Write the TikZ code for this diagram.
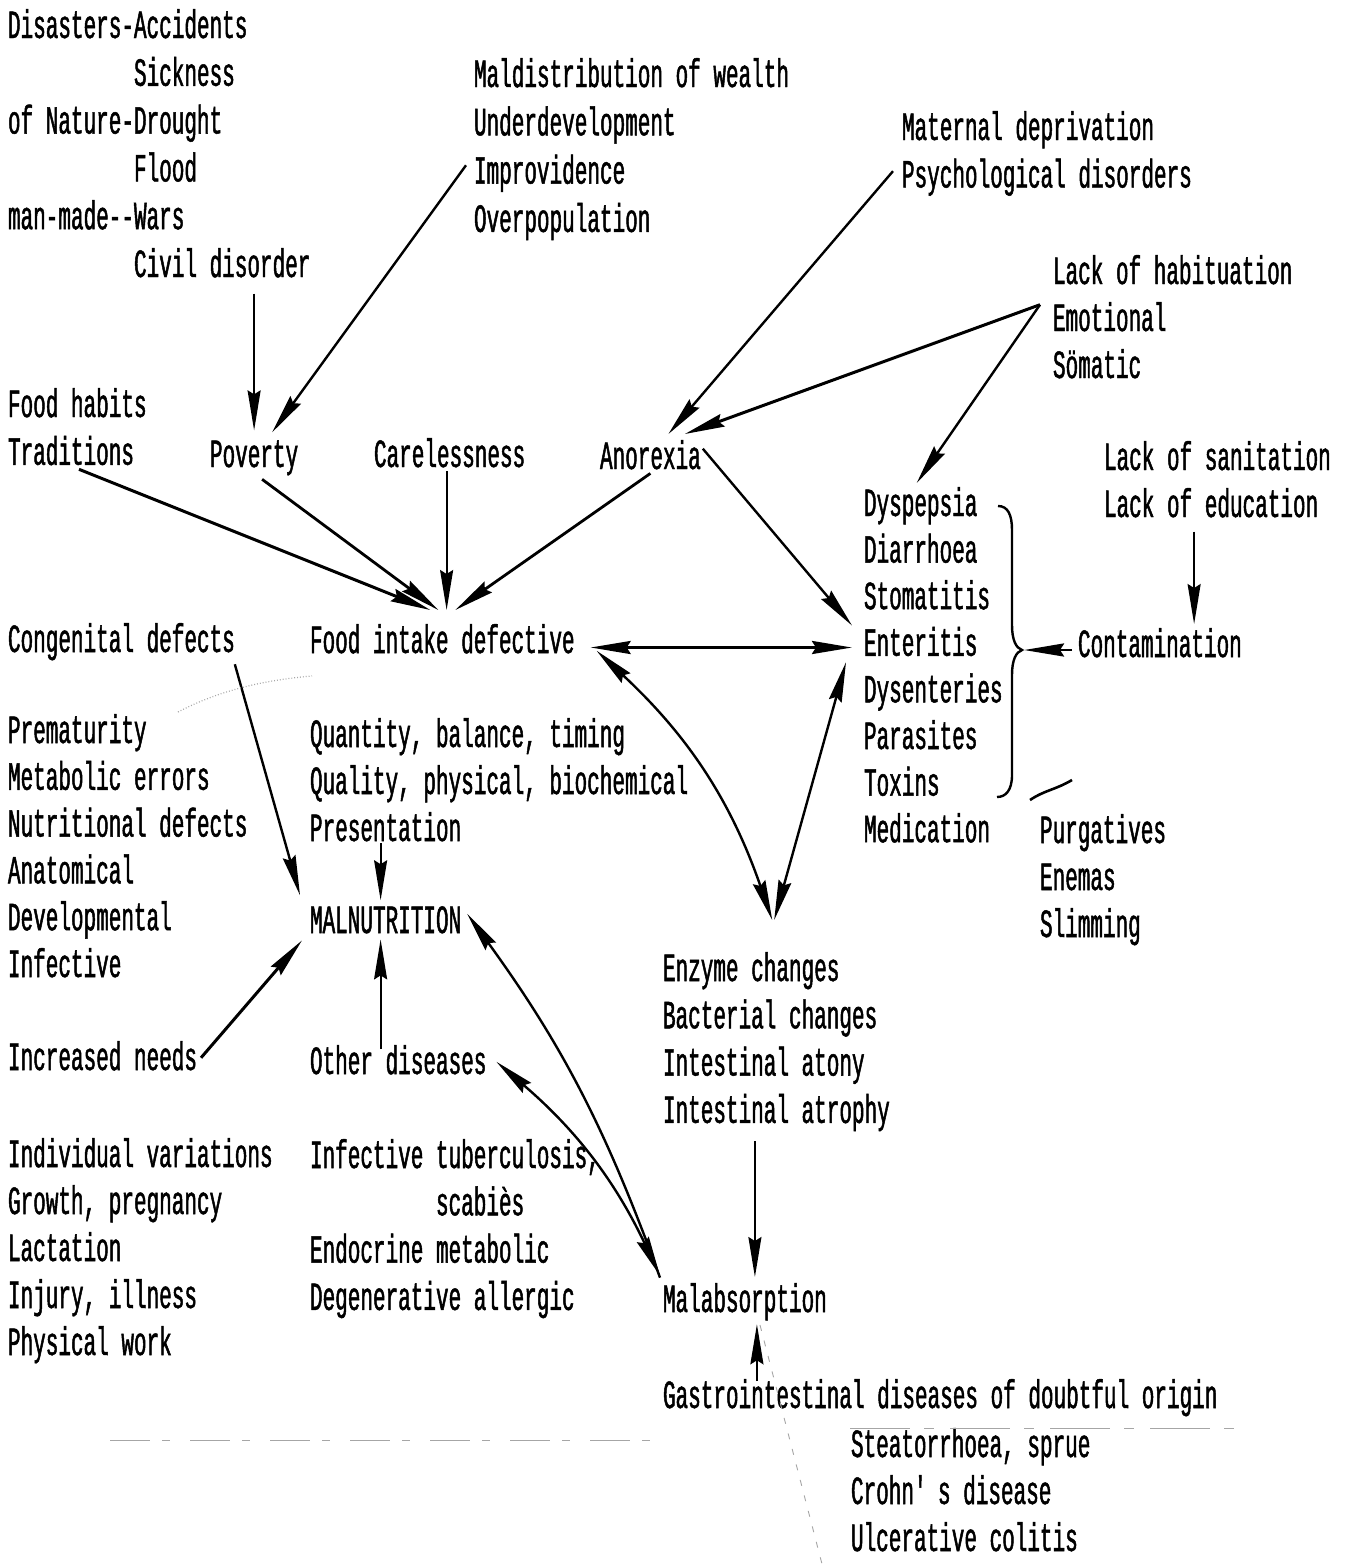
\documentclass[tikz,border=0pt]{standalone}
\usepackage{fontspec}
\usetikzlibrary{arrows.meta}
% condensed typewriter face
\newfontfamily\twfont[FakeStretch=0.525,FakeBold=1.2]{Liberation Mono}
\tikzset{
  tw/.style={font=\twfont\fontsize{40}{48}\selectfont, anchor=base west,
             inner sep=0pt, outer sep=0pt},
  hd/.tip={Stealth[length=40pt,width=13pt,inset=4pt]},
  arr/.style={line width=2.4pt, -hd},
  dbl/.style={line width=2.4pt, hd-hd},
  noise/.style={gray!70, line width=0.9pt},
}
% a column of typed lines: name, x, first baseline, line gap, lines
\newcommand\stk[5]{%
  \foreach \txt [count=\k] in {#5}{%
    \node[tw] (#1\k) at (#2,{#3+#4*(\k-1)}) {\txt};}}
\begin{document}
\begin{tikzpicture}[x=1pt,y=-1pt]
\useasboundingbox[fill=white] (0,0) rectangle (1346,1564);

% ---- text blocks ----
\stk{dis}{8}{38}{47.8}{Disasters-Accidents,\hphantom{Disasters-}Sickness,
  of Nature-Drought,\hphantom{Disasters-}Flood,man-made-{}-Wars,
  \hphantom{Disasters-}Civil disorder}
\stk{mal}{474}{87}{48.3}{Maldistribution of wealth,Underdevelopment,
  Improvidence,Overpopulation}
\stk{mat}{902}{140}{47.5}{Maternal deprivation,Psychological disorders}
\stk{hab}{1053}{284}{47}{Lack of habituation,Emotional,Sömatic}
\stk{fh}{8}{417}{47.8}{Food habits,Traditions}
\stk{pov}{210}{467}{47}{Poverty}
\stk{care}{374}{467}{47}{Carelessness}
\stk{ano}{600}{469}{47}{Anorexia}
\stk{san}{1104}{470}{47}{Lack of sanitation,Lack of education}
\stk{dys}{864}{516}{46.6}{Dyspepsia,Diarrhoea,Stomatitis,Enteritis,
  Dysenteries,Parasites,Toxins,Medication}
\stk{con}{1078}{657}{47}{Contamination}
\stk{cong}{8}{652}{47}{Congenital defects}
\stk{fid}{310}{653}{47}{Food intake defective}
\stk{pre}{8}{743}{46.8}{Prematurity,Metabolic errors,Nutritional defects,
  Anatomical,Developmental,Infective}
\stk{qty}{310}{747}{47}{{Quantity, balance, timing},
  {Quality, physical, biochemical},Presentation}
\stk{maln}{310}{933}{47}{MALNUTRITION}
\stk{pur}{1040}{843}{47}{Purgatives,Enemas,Slimming}
\stk{enz}{663}{981}{47.3}{Enzyme changes,Bacterial changes,
  Intestinal atony,Intestinal atrophy}
\stk{inc}{8}{1070}{47}{Increased needs}
\stk{oth}{310}{1074}{47}{Other diseases}
\stk{ind}{8}{1167}{47}{Individual variations,{Growth, pregnancy},Lactation,
  {Injury, illness},Physical work}
\stk{inf}{310}{1168}{47.3}{{Infective tuberculosis,},\hphantom{Infectivex}scabiès,
  Endocrine metabolic,Degenerative allergic}
\stk{mab}{663}{1312}{47}{Malabsorption}
\stk{gi}{663}{1408}{47}{Gastrointestinal diseases of doubtful origin}
\stk{ste}{851}{1457}{47}{{Steatorrhoea, sprue},Crohn\textquotesingle s disease,
  Ulcerative colitis}

% ---- brace gathering the intestinal disorders ----
\coordinate (bt) at (1022,650);
\draw[line width=2.4pt] (998,506) .. controls (1008,506) and (1012,515) .. (1012,530)
  -- (1012,625) .. controls (1012,640) and (1016,648) .. (bt)
  .. controls (1016,652) and (1012,660) .. (1012,675)
  -- (1012,775) .. controls (1012,790) and (1006,797) .. (997,797);
\draw[line width=2.6pt] (1030,800) .. controls (1045,790) and (1055,790) .. (1072,780);

% ---- causes of poverty and anorexia ----
\draw[arr,line width=2pt] ([yshift=-16pt]dis6.south -| pov1.north) -- ([yshift=10pt]pov1.north);
\draw[arr] ([xshift=-8pt,yshift=8pt]mal3.west) -- ([xshift=18pt,yshift=8pt]pov1.north);
\draw[arr] ([xshift=-9pt,yshift=6pt]mat2.west) -- ([xshift=18pt,yshift=6pt]ano1.north);
\draw[arr,line width=3pt] ([xshift=-13pt,yshift=12pt]hab2.west) -- ([xshift=-16pt,yshift=6pt]ano1.north east);
\draw[arr] ([xshift=-13pt,yshift=12pt]hab2.west) -- ([xshift=-4pt,yshift=4pt]dys1.north);

% ---- into defective food intake ----
\draw[arr,line width=3pt] ([xshift=8pt,yshift=-4pt]fh2.south) -- ([xshift=-12pt,yshift=14pt]fid1.north);
\draw[arr,line width=2.8pt] ([xshift=8pt,yshift=-4pt]pov1.south) -- ([xshift=-4pt,yshift=14pt]fid1.north);
\draw[arr,line width=2pt] ([xshift=-3pt,yshift=-4pt]care1.south) -- ([xshift=-3pt,yshift=14pt]care1.south |- fid1.north);
\draw[arr,line width=2.8pt] ([yshift=-4pt]ano1.south) -- ([xshift=13pt,yshift=14pt]fid1.north);

% ---- food intake and the gut ----
\draw[arr] ([xshift=2pt,yshift=6pt]ano1.east) -- ([xshift=-12pt,yshift=16pt]dys4.west);
\draw[dbl,line width=3pt] ([xshift=16pt,yshift=-6pt]fid1.east |- dys4.west) -- ([xshift=-12pt,yshift=-6pt]dys4.west);
\coordinate (vv) at ([xshift=21pt,yshift=32pt]enz1.north);
\draw[dbl] ([xshift=22pt,yshift=-12pt]fid1.east) to[bend left=14] (vv);
\draw[dbl] ([xshift=-18pt,yshift=-6pt]dys4.south west) -- ([xshift=2pt]vv);
\draw[arr,line width=2.8pt] ([xshift=-6pt]con1.west |- bt) -- ([xshift=2pt]bt);
\draw[arr,line width=2pt] ([xshift=-17pt,yshift=-14pt]san2.south) -- ([xshift=-17pt,yshift=4pt]san2.south |- con1.north);

% ---- into malnutrition ----
\draw[arr] ([yshift=-4pt]cong1.south east) -- ([xshift=-10pt,yshift=11pt]maln1.north west);
\draw[arr,line width=2pt] ([xshift=-5pt,yshift=-2pt]qty3.south) -- ([xshift=-5pt,yshift=6pt]maln1.north);
\draw[arr,line width=2pt] ([xshift=-5pt,yshift=-4pt]maln1.south |- oth1.north) -- ([xshift=-5pt,yshift=-6pt]maln1.south);
\draw[arr,line width=3pt] ([xshift=4pt,yshift=-2pt]inc1.east) -- ([xshift=-8pt,yshift=-7pt]maln1.south west);
\draw[arr] ([xshift=-3pt,yshift=24pt]mab1.west) to[bend right=8] ([xshift=6pt,yshift=6pt]maln1.east);
\draw[dbl] ([xshift=10pt,yshift=-2pt]oth1.east) to[bend left=12] ([xshift=-3pt,yshift=26pt]mab1.west);
\draw[arr,line width=2pt] ([xshift=10pt,yshift=-10pt]mab1.north |- enz4.south) -- ([xshift=10pt,yshift=6pt]mab1.north);
\draw[arr,line width=2pt] ([xshift=12pt,yshift=-2pt]mab1.south |- gi1.north) -- ([xshift=12pt,yshift=-4pt]mab1.south);

% ---- faint marks on the sheet ----
\draw[noise,dotted,line width=1.2pt] (178,712) .. controls (220,690) and (265,680) .. (312,676);
\draw[noise,dash pattern=on 40pt off 12pt on 8pt off 20pt] (110,1440) -- (660,1440);
\draw[noise,dash pattern=on 60pt off 14pt on 10pt off 16pt] (850,1428) -- (1240,1428);
\draw[noise,dash pattern=on 6pt off 10pt] (760,1325) -- (822,1564);
\end{tikzpicture}
\end{document}
